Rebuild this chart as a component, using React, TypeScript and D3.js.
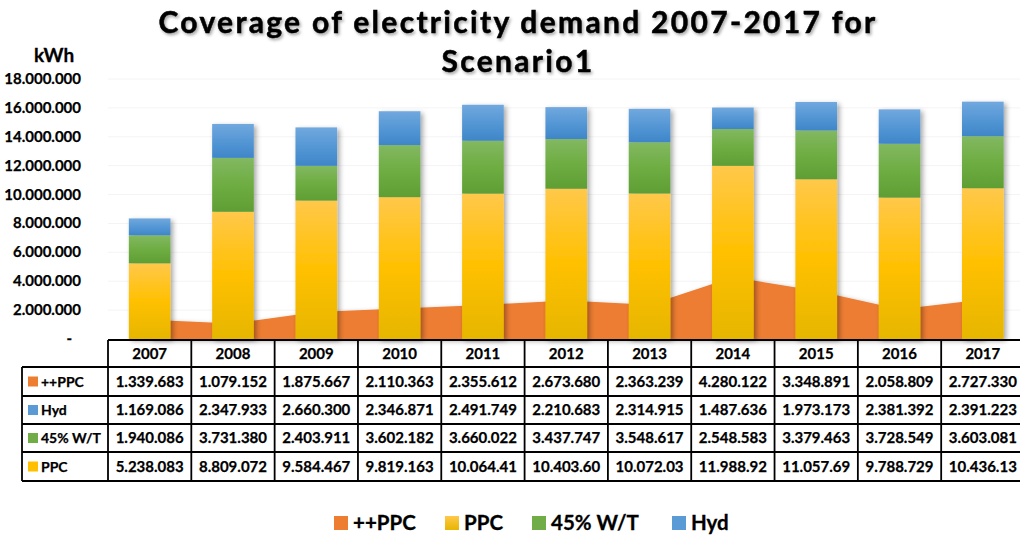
import React from "react";
import * as d3 from "d3";

const years = ["2007","2008","2009","2010","2011","2012","2013","2014","2015","2016","2017"];
const ppcPlus = [1339683,1079152,1875667,2110363,2355612,2673680,2363239,4280122,3348891,2058809,2727330];
const hyd = [1169086,2347933,2660300,2346871,2491749,2210683,2314915,1487636,1973173,2381392,2391223];
const wt = [1940086,3731380,2403911,3602182,3660022,3437747,3548617,2548583,3379463,3728549,3603081];
const ppc = [5238083,8809072,9584467,9819163,10064410,10403600,10072030,11988920,11057690,9788729,10436130];
const yTicks = [0,2e6,4e6,6e6,8e6,10e6,12e6,14e6,16e6,18e6];

const W = 1020, H = 538;
const FONT = "Lato, 'Open Sans', sans-serif";
const C_ORANGE = "#ED7D31";

const fmt = (v: number) => d3.format(",")(v).replace(/,/g, ".");

export default function App() {
  const x = d3.scaleBand<string>().domain(years).range([108, 1024.5]).paddingInner(0.5).paddingOuter(0.25);
  const y = d3.scaleLinear().domain([0, 18e6]).range([339, 79]);
  const step = x.step();
  const colLeft = (i: number) => 108 + i * step;

  const area = d3.area<number>()
    .x((_, i) => (x(years[i]) as number) + x.bandwidth() / 2)
    .y0(y(0))
    .y1(d => y(d));

  const stackRows = years.map((yr, i) => ({ yr, ppc: ppc[i], wt: wt[i], hyd: hyd[i] }));
  const stack = d3.stack<any>().keys(["ppc", "wt", "hyd"])(stackRows);
  const fills: Record<string, string> = { ppc: "url(#gY)", wt: "url(#gG)", hyd: "url(#gB)" };

  const rows = [
    { name: "++PPC", color: C_ORANGE, vals: ppcPlus },
    { name: "Hyd", color: "#5B9BD5", vals: hyd },
    { name: "45% W/T", color: "#70AD47", vals: wt },
    { name: "PPC", color: "#FFC000", vals: ppc },
  ];
  const rowY = [367, 396, 424, 452, 481];
  const tblTop = 340;

  const legend = [
    { name: "++PPC", color: C_ORANGE, x: 334 },
    { name: "PPC", color: "url(#gYl)", x: 445 },
    { name: "45% W/T", color: "#70AD47", x: 532 },
    { name: "Hyd", color: "#5B9BD5", x: 672 },
  ];

  return (
    <svg width={W} height={H} style={{ position: "absolute", left: 0, top: 0, background: "#fff" }} fontFamily={FONT}>
      <defs>
        <linearGradient id="gY" x1="0" y1="0" x2="0" y2="1">
          <stop offset="0" stopColor="#FFC84A" />
          <stop offset="0.5" stopColor="#FFC000" />
          <stop offset="1" stopColor="#E6B600" />
        </linearGradient>
        <linearGradient id="gYl" x1="0" y1="0" x2="0" y2="1">
          <stop offset="0" stopColor="#FFC84A" />
          <stop offset="1" stopColor="#E6B600" />
        </linearGradient>
        <linearGradient id="gG" x1="0" y1="0" x2="0" y2="1">
          <stop offset="0" stopColor="#82B862" />
          <stop offset="0.5" stopColor="#6EAD42" />
          <stop offset="1" stopColor="#5F9E33" />
        </linearGradient>
        <linearGradient id="gB" x1="0" y1="0" x2="0" y2="1">
          <stop offset="0" stopColor="#71A8DE" />
          <stop offset="0.5" stopColor="#5597D5" />
          <stop offset="1" stopColor="#3E86C8" />
        </linearGradient>
        <filter id="sh" x="-20%" y="-20%" width="140%" height="140%">
          <feDropShadow dx="2.5" dy="2" stdDeviation="2.5" floodColor="#000" floodOpacity="0.35" />
        </filter>
        <filter id="tsh" x="-5%" y="-20%" width="110%" height="150%">
          <feDropShadow dx="1.5" dy="2" stdDeviation="1.5" floodColor="#000" floodOpacity="0.35" />
        </filter>
      </defs>

      {/* title */}
      <g filter="url(#tsh)" fontWeight={700} fontSize={30} textAnchor="middle" fill="#000" stroke="#000" strokeWidth={0.5} letterSpacing={2.3}>
        <text x={518} y={33}>Coverage of electricity demand 2007-2017 for</text>
        <text x={518} y={72}>Scenario1</text>
      </g>
      <text x={54} y={62} textAnchor="middle" fontWeight={700} fontSize={19} stroke="#000" strokeWidth={0.3}>kWh</text>

      {/* gridlines */}
      {yTicks.slice(1).map(t => (
        <line key={t} x1={108} x2={1020} y1={y(t)} y2={y(t)} stroke="#F4F4F4" strokeWidth={1} />
      ))}
      {/* y ticks */}
      {yTicks.map(t => (
        <text key={t} x={t === 0 ? 72 : 81} y={y(t) + 5} textAnchor="end" fontWeight={700} fontSize={15} stroke="#000" strokeWidth={0.25}>
          {t === 0 ? "-" : fmt(t)}
        </text>
      ))}

      {/* area */}
      <path d={area(ppcPlus) as string} fill={C_ORANGE} filter="url(#sh)" />

      {/* bars */}
      <g filter="url(#sh)">
        {stack.map(layer => (
          <g key={layer.key}>
            {layer.map((d, i) => (
              <rect key={i} x={x(years[i])} width={x.bandwidth()} y={y(d[1])} height={y(d[0]) - y(d[1])} fill={fills[layer.key]} />
            ))}
          </g>
        ))}
      </g>

      {/* table */}
      <g stroke="#000" strokeWidth={1.8} fill="none">
        <line x1={108} x2={1024} y1={tblTop} y2={tblTop} />
        {rowY.map(ry => <line key={ry} x1={22} x2={1024} y1={ry} y2={ry} />)}
        <line x1={22} x2={22} y1={rowY[0]} y2={rowY[4]} />
        {years.map((_, i) => <line key={i} x1={colLeft(i)} x2={colLeft(i)} y1={tblTop} y2={rowY[4]} />)}
      </g>
      <g fontWeight={700} fontSize={15} stroke="#000" strokeWidth={0.25}>
        {years.map((yr, i) => (
          <text key={yr} x={colLeft(i) + step / 2} y={(tblTop + rowY[0]) / 2 + 5} textAnchor="middle">{yr}</text>
        ))}
        {rows.map((r, ri) => {
          const cy = (rowY[ri] + rowY[ri + 1]) / 2;
          return (
            <g key={r.name}>
              <rect x={28} y={cy - 5} width={10} height={10} fill={r.color} stroke="none" />
              <text x={41} y={cy + 5} fontSize={14}>{r.name}</text>
              {r.vals.map((v, i) => (
                <text key={i} x={colLeft(i) + step / 2} y={cy + 5} textAnchor="middle">
                  {fmt(v).slice(0, 9)}
                </text>
              ))}
            </g>
          );
        })}
      </g>

      {/* legend */}
      {legend.map(l => (
        <g key={l.name}>
          <rect x={l.x} y={516} width={14} height={14} fill={l.color} />
          <text x={l.x + 19} y={530} fontWeight={700} fontSize={20.5} stroke="#000" strokeWidth={0.3}>{l.name}</text>
        </g>
      ))}
    </svg>
  );
}
